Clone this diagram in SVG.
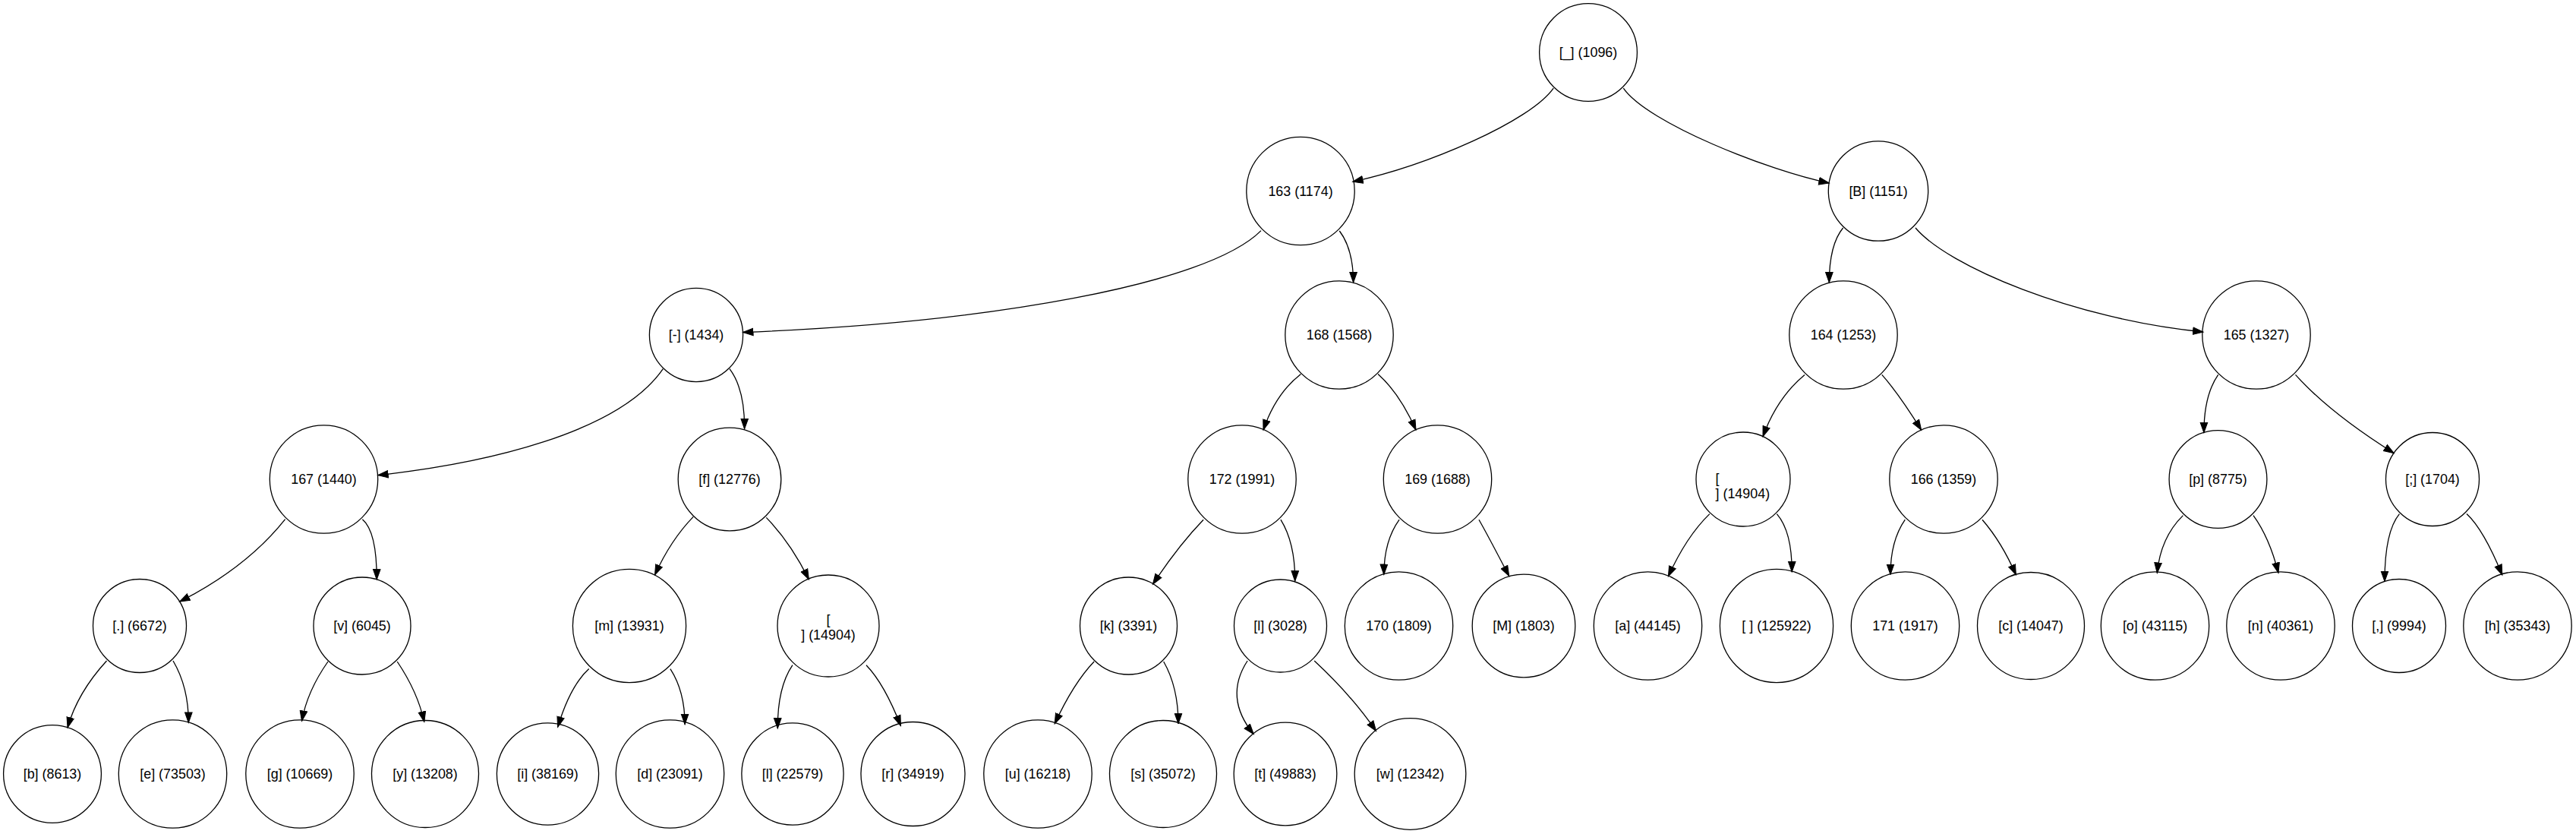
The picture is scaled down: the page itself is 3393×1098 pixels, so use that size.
<svg xmlns="http://www.w3.org/2000/svg" width="3393" height="1098" viewBox="0 0 3393 1098">
<style>
.n circle{fill:none;stroke:#000;stroke-width:1.3}
.n text{font-family:"Liberation Sans",Arial,sans-serif;font-size:17.9px;fill:#000;text-anchor:middle}
.n text.l{text-anchor:start}
#edges path{fill:none;stroke:#000;stroke-width:1.3;marker-end:url(#ah)}
</style>
<defs>
<marker id="ah" markerUnits="userSpaceOnUse" viewBox="0 0 16 12" markerWidth="16" markerHeight="12" refX="14" refY="6" orient="auto">
<path d="M0.5,1.2 L14,6 L0.5,10.8 Z" fill="#000" stroke="#000" stroke-width="1"/>
</marker>
</defs>
<rect x="0" y="0" width="3393" height="1098" fill="#fff"/>
<g id="edges">
<path d="M2046.2,116.1 C2015,160 1880,218 1781.7,239.3"/>
<path d="M2138.3,116.1 C2170,162 2330,225 2409.3,241"/>
<path d="M1661,303.6 C1590,375 1300,425 978.5,437.5"/>
<path d="M1764.3,304 Q1782.5,328 1782.6,372"/>
<path d="M2427.6,300 Q2409.5,322 2409.3,372"/>
<path d="M2523,300 C2565,350 2730,420 2902,437"/>
<path d="M873.3,485.7 C815,570 640,610 497.7,625.7"/>
<path d="M961,485.7 Q981,512 980.6,564.7"/>
<path d="M1713.4,492.4 Q1680.1,518.5 1664,566.2"/>
<path d="M1815.1,492.4 Q1844,518.5 1865,566.2"/>
<path d="M2377,493.4 Q2340.5,523.9 2322,574.8"/>
<path d="M2478.8,493.4 Q2500.7,518 2530.7,566.2"/>
<path d="M2921.7,493.4 Q2903,520 2902.9,569.7"/>
<path d="M3023.5,493.4 Q3068.6,543.5 3153.3,596.7"/>
<path d="M375.6,683.7 Q324.9,747.5 236.6,792.1"/>
<path d="M477.4,683.7 Q496.5,700 496.2,763.1"/>
<path d="M913.2,680.4 Q883.5,710.9 862.5,757"/>
<path d="M1009.3,681.4 Q1041.3,714.5 1065.4,762.9"/>
<path d="M1585.1,684.2 Q1552.3,718.1 1518.4,769.2"/>
<path d="M1686.9,684.2 Q1706,715 1705.7,765.1"/>
<path d="M1843.1,684.2 Q1823,712 1822.8,756.5"/>
<path d="M1948,684.2 Q1958.8,703 1987.7,758.5"/>
<path d="M2251.8,676.6 Q2221,706.6 2197.4,759"/>
<path d="M2340.4,676.6 Q2360.5,700 2360.2,752.9"/>
<path d="M2509.3,684.2 Q2490,712 2490,756.5"/>
<path d="M2611,684.2 Q2636.8,714 2655.4,757"/>
<path d="M2875.4,678.6 Q2845.7,707.9 2841.3,754.4"/>
<path d="M2968,678.6 Q2989.3,707.9 3001,754.4"/>
<path d="M3160.4,676.6 Q3141,700 3141,765.6"/>
<path d="M3249,676.6 Q3271.4,697.4 3295.8,757"/>
<path d="M140.5,870 Q102,912 89,958"/>
<path d="M228,870 Q248.5,905 248.3,951.4"/>
<path d="M432,871 Q404.7,909.8 397.5,949.4"/>
<path d="M523.2,871 Q550,910.7 558.8,950.4"/>
<path d="M775.7,880.6 Q751.3,902.5 734.6,957.2"/>
<path d="M882.9,880.6 Q902,910 902.1,953.7"/>
<path d="M1043.9,875.7 Q1024,905 1024.3,959"/>
<path d="M1141,875.7 Q1164.9,900.4 1186.4,955.5"/>
<path d="M1441.1,871 Q1414,899.3 1389.2,952.9"/>
<path d="M1532.7,871 Q1552,905 1552,952.9"/>
<path d="M1643.1,870 Q1611.6,918.3 1651.3,966.7"/>
<path d="M1731.2,870 Q1780.1,915.3 1812.6,962.6"/>
</g>
<g id="root" class="n"><circle cx="2092" cy="69" r="64.4"/><text x="2092" y="75.3">[_] (1096)</text></g>
<g id="n163" class="n"><circle cx="1713" cy="251.5" r="71.2"/><text x="1713" y="257.8">163 (1174)</text></g>
<g id="nB" class="n"><circle cx="2474" cy="251.5" r="65.7"/><text x="2474" y="257.8">[B] (1151)</text></g>
<g id="nMinus" class="n"><circle cx="917" cy="441" r="61.6"/><text x="917" y="447.3">[-] (1434)</text></g>
<g id="n168" class="n"><circle cx="1764" cy="441" r="71.2"/><text x="1764" y="447.3">168 (1568)</text></g>
<g id="n164" class="n"><circle cx="2428" cy="441" r="71.2"/><text x="2428" y="447.3">164 (1253)</text></g>
<g id="n165" class="n"><circle cx="2972" cy="441" r="71.2"/><text x="2972" y="447.3">165 (1327)</text></g>
<g id="n167" class="n"><circle cx="426.5" cy="631" r="71.2"/><text x="426.5" y="637.3">167 (1440)</text></g>
<g id="nf" class="n"><circle cx="961" cy="631" r="67.8"/><text x="961" y="637.3">[f] (12776)</text></g>
<g id="n172" class="n"><circle cx="1636" cy="631" r="71.2"/><text x="1636" y="637.3">172 (1991)</text></g>
<g id="n169" class="n"><circle cx="1893.5" cy="631" r="71.2"/><text x="1893.5" y="637.3">169 (1688)</text></g>
<g id="nNlB" class="n"><circle cx="2296" cy="631" r="62"/><text class="l" x="2259.5" y="635.6">[</text><text class="l" x="2259.5" y="656">] (14904)</text></g>
<g id="n166" class="n"><circle cx="2560" cy="631" r="71.2"/><text x="2560" y="637.3">166 (1359)</text></g>
<g id="np" class="n"><circle cx="2921.5" cy="631" r="64.4"/><text x="2921.5" y="637.3">[p] (8775)</text></g>
<g id="nSemi" class="n"><circle cx="3204" cy="631" r="61.5"/><text x="3204" y="637.3">[;] (1704)</text></g>
<g id="nDot" class="n"><circle cx="184" cy="824" r="61.5"/><text x="184" y="830.3">[.] (6672)</text></g>
<g id="nv" class="n"><circle cx="477" cy="824" r="64"/><text x="477" y="830.3">[v] (6045)</text></g>
<g id="nm" class="n"><circle cx="829" cy="824" r="74.6"/><text x="829" y="830.3">[m] (13931)</text></g>
<g id="nNlA" class="n"><circle cx="1091" cy="824" r="67"/><text x="1091" y="821.5">[</text><text x="1091" y="841.5">] (14904)</text></g>
<g id="nk" class="n"><circle cx="1486.5" cy="824" r="64"/><text x="1486.5" y="830.3">[k] (3391)</text></g>
<g id="nl1" class="n"><circle cx="1686.5" cy="824" r="61"/><text x="1686.5" y="830.3">[l] (3028)</text></g>
<g id="n170" class="n"><circle cx="1842.5" cy="824" r="71.2"/><text x="1842.5" y="830.3">170 (1809)</text></g>
<g id="nM" class="n"><circle cx="2007" cy="824" r="67.8"/><text x="2007" y="830.3">[M] (1803)</text></g>
<g id="na" class="n"><circle cx="2170.5" cy="824" r="71.2"/><text x="2170.5" y="830.3">[a] (44145)</text></g>
<g id="nSpace" class="n"><circle cx="2340" cy="824" r="74.6"/><text x="2340" y="830.3">[ ] (125922)</text></g>
<g id="n171" class="n"><circle cx="2509.5" cy="824" r="71.2"/><text x="2509.5" y="830.3">171 (1917)</text></g>
<g id="nc" class="n"><circle cx="2675" cy="824" r="70.5"/><text x="2675" y="830.3">[c] (14047)</text></g>
<g id="no" class="n"><circle cx="2838.5" cy="824" r="71.2"/><text x="2838.5" y="830.3">[o] (43115)</text></g>
<g id="nn" class="n"><circle cx="3004" cy="824" r="71.2"/><text x="3004" y="830.3">[n] (40361)</text></g>
<g id="nComma" class="n"><circle cx="3160" cy="824" r="61.5"/><text x="3160" y="830.3">[,] (9994)</text></g>
<g id="nh" class="n"><circle cx="3316" cy="824" r="71.2"/><text x="3316" y="830.3">[h] (35343)</text></g>
<g id="nb" class="n"><circle cx="69" cy="1019" r="64.4"/><text x="69" y="1025.3">[b] (8613)</text></g>
<g id="ne" class="n"><circle cx="227.5" cy="1019" r="71.2"/><text x="227.5" y="1025.3">[e] (73503)</text></g>
<g id="ng" class="n"><circle cx="395" cy="1019" r="71.2"/><text x="395" y="1025.3">[g] (10669)</text></g>
<g id="ny" class="n"><circle cx="560" cy="1019" r="70.5"/><text x="560" y="1025.3">[y] (13208)</text></g>
<g id="ni" class="n"><circle cx="721.5" cy="1019" r="67.1"/><text x="721.5" y="1025.3">[i] (38169)</text></g>
<g id="nd" class="n"><circle cx="882.5" cy="1019" r="71.2"/><text x="882.5" y="1025.3">[d] (23091)</text></g>
<g id="nl2" class="n"><circle cx="1044" cy="1019" r="67.1"/><text x="1044" y="1025.3">[l] (22579)</text></g>
<g id="nr" class="n"><circle cx="1202.5" cy="1019" r="68.5"/><text x="1202.5" y="1025.3">[r] (34919)</text></g>
<g id="nu" class="n"><circle cx="1367" cy="1019" r="71.2"/><text x="1367" y="1025.3">[u] (16218)</text></g>
<g id="ns" class="n"><circle cx="1532" cy="1019" r="70.5"/><text x="1532" y="1025.3">[s] (35072)</text></g>
<g id="nt" class="n"><circle cx="1693" cy="1019" r="67.8"/><text x="1693" y="1025.3">[t] (49883)</text></g>
<g id="nw" class="n"><circle cx="1857.5" cy="1019" r="73.3"/><text x="1857.5" y="1025.3">[w] (12342)</text></g>
</svg>
